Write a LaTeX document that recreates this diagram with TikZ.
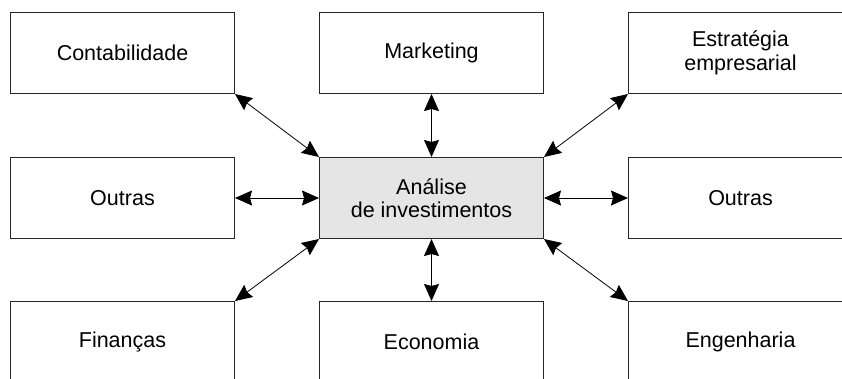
\documentclass[tikz,border=0pt]{standalone}
\usepackage{fontspec}
\setmainfont{Liberation Sans}
\usetikzlibrary{arrows.meta}
\begin{document}
\begin{tikzpicture}[x=1pt,y=-1pt,
  box/.style={draw=black!85, line width=1pt, minimum width=224pt, minimum height=81pt,
    inner sep=0pt, font=\fontsize{21.5}{23.5}\selectfont, align=center, anchor=north west},
  hub/.style={box, fill=black!10},
  link/.style={line width=0.8pt, {Stealth[length=17pt,width=15pt,inset=2pt]}-{Stealth[length=17pt,width=15pt,inset=2pt]}}]
\useasboundingbox (0,0) rectangle (842,378);
\clip (0,0) rectangle (842,378);
\node[box] (cont) at (10,12) {Contabilidade};
\node[box] (mkt) at (319,12) {Marketing};
\node[box] (estr) at (628,12) {Estratégia\\empresarial};
\node[box] (outL) at (10,157) {Outras};
\node[hub] (hub) at (319,157) {Análise\\de investimentos};
\node[box] (outR) at (628,157) {Outras};
\node[box] (fin) at (10,301) {Finanças};
\node[box] (eco) at (319,301) {Economia};
\node[box] (eng) at (628,301) {Engenharia};
\draw[link] (cont.south east) -- (hub.north west);
\draw[link] (mkt.south) -- (hub.north);
\draw[link] (estr.south west) -- (hub.north east);
\draw[link] (outL.east) -- (hub.west);
\draw[link] (outR.west) -- (hub.east);
\draw[link] (fin.north east) -- (hub.south west);
\draw[link] (eco.north) -- (hub.south);
\draw[link] (eng.north west) -- (hub.south east);
\end{tikzpicture}
\end{document}
